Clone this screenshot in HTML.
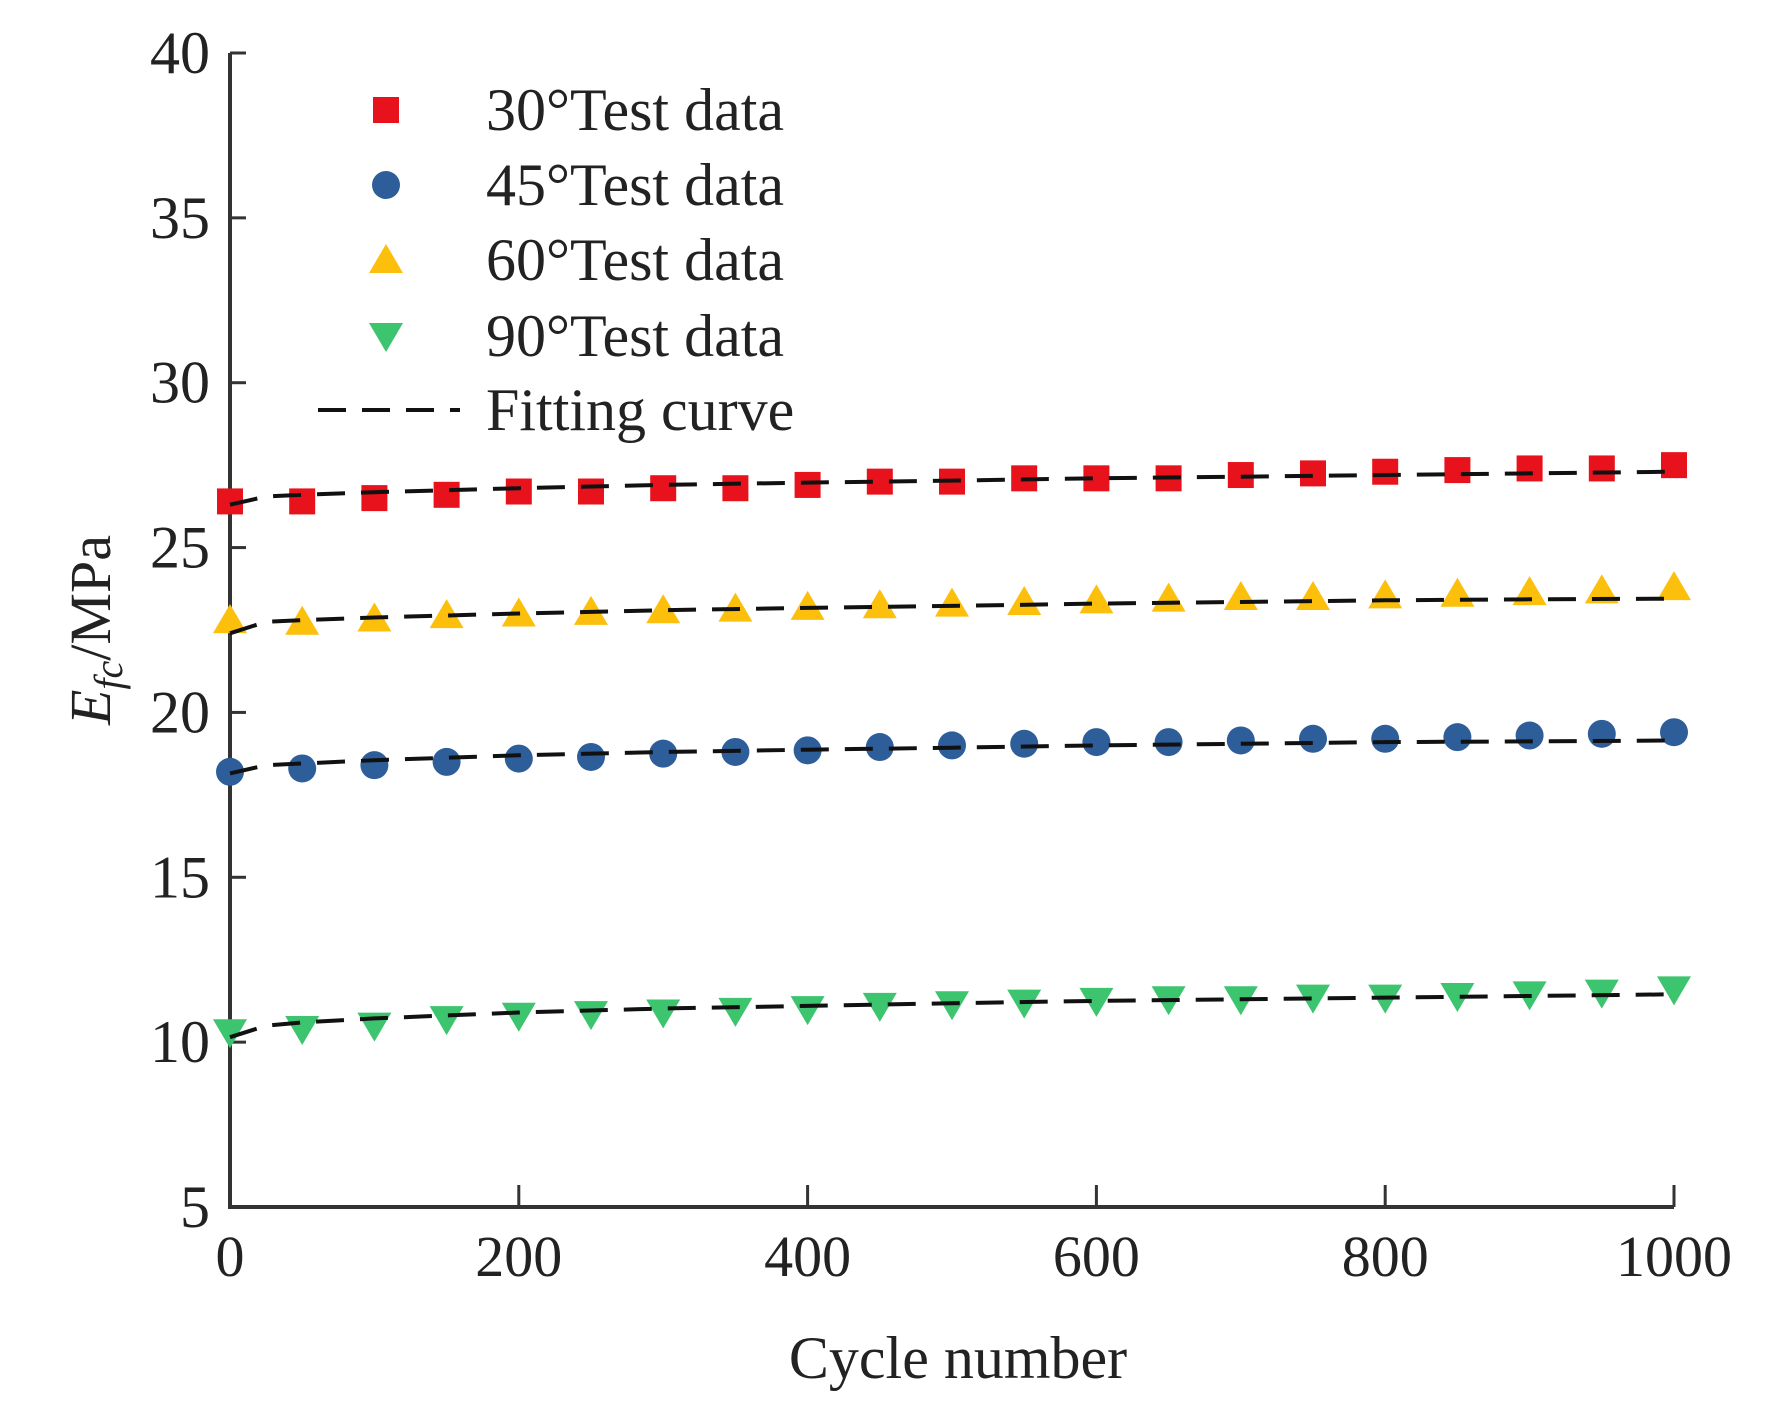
<!DOCTYPE html>
<html><head><meta charset="utf-8"><style>
body{margin:0;background:#fff}
text{font-family:"Liberation Serif",serif;fill:#222}
</style></head><body>
<svg id="chart" width="1770" height="1419">
<g id="axes"></g>
<g id="plot"></g>
<g id="legend"></g>
</svg>
<script>
const xs=[0,50,100,150,200,250,300,350,400,450,500,550,600,650,700,750,800,850,900,950,1000];
const s30=[26.4,26.4,26.5,26.6,26.7,26.7,26.8,26.8,26.9,27.0,27.0,27.1,27.1,27.1,27.2,27.25,27.3,27.35,27.4,27.4,27.5];
const s45=[18.2,18.3,18.4,18.5,18.6,18.65,18.75,18.8,18.85,18.95,19.0,19.05,19.1,19.1,19.15,19.2,19.2,19.25,19.3,19.35,19.4];
const s60=[22.8,22.75,22.85,22.95,23.0,23.05,23.1,23.15,23.2,23.25,23.3,23.35,23.4,23.45,23.5,23.5,23.55,23.6,23.65,23.7,23.8];
const s90=[10.3,10.4,10.5,10.7,10.8,10.85,10.9,10.95,11.0,11.1,11.15,11.2,11.25,11.3,11.3,11.35,11.35,11.4,11.45,11.5,11.6];
const fitX=[0,25,50,100,200,300,400,500,600,700,800,900,1000];
const fit30=[26.3,26.55,26.6,26.68,26.8,26.9,26.97,27.03,27.1,27.15,27.2,27.25,27.3];
const fit45=[18.15,18.4,18.45,18.55,18.7,18.8,18.87,18.93,19.0,19.05,19.1,19.12,19.15];
const fit60=[22.4,22.75,22.8,22.88,23.0,23.1,23.17,23.23,23.3,23.35,23.4,23.43,23.45];
const fit90=[10.15,10.5,10.6,10.72,10.9,11.02,11.1,11.18,11.25,11.3,11.35,11.4,11.45];
const xTicks=[0,200,400,600,800,1000];
const yTicks=[5,10,15,20,25,30,35,40];
const legendLabels=["30°Test data","45°Test data","60°Test data","90°Test data","Fitting curve"];

const NS="http://www.w3.org/2000/svg";
const X0=230,X1=1674,Y0=1207,Y1=53;
const xS=v=>X0+(v-0)/1000*(X1-X0);
const yS=v=>Y0-(v-5)/35*(Y0-Y1);
function mk(parent,tag,attrs,txt){const e=document.createElementNS(NS,tag);for(const k in attrs)e.setAttribute(k,attrs[k]);if(txt!==undefined)e.textContent=txt;parent.appendChild(e);return e;}
const axes=document.getElementById('axes'),plot=document.getElementById('plot'),leg=document.getElementById('legend');

let a=mk(axes,'path',{d:`M${X0},${Y1}V${Y0}H${X1}`,stroke:'#333','stroke-width':4,fill:'none'});


yTicks.forEach(t=>{
 let l=mk(axes,'line',{x1:X0,x2:X0+16,y1:yS(t),y2:yS(t),stroke:'#333','stroke-width':3});
 
 
 let tx=mk(axes,'text',{x:X0-20,y:yS(t)+20,'text-anchor':'end','font-size':60},t);
 
 
});
xTicks.forEach(t=>{
 let l=mk(axes,'line',{x1:xS(t),x2:xS(t),y1:Y0,y2:Y0-22,stroke:'#333','stroke-width':3});
 
 
 let tx=mk(axes,'text',{x:xS(t),y:1276,'text-anchor':'middle','font-size':58},t);
 
 
});
let xt=mk(axes,'text',{x:958,y:1378,'text-anchor':'middle','font-size':60},'Cycle number');


let yt=mk(axes,'text',{transform:'translate(110,630) rotate(-90)','text-anchor':'middle','font-size':58});


mk(yt,'tspan',{'font-style':'italic'},'E');
mk(yt,'tspan',{'font-style':'italic','font-size':40,dy:12},'fc');
mk(yt,'tspan',{dy:-12},'/MPa');

function marker(g,type,cx,cy,col){
 let e;
 if(type==='sq') e=mk(g,'rect',{x:cx-13,y:cy-13,width:26,height:26,fill:col});
 else if(type==='ci') e=mk(g,'circle',{cx:cx,cy:cy,r:14,fill:col});
 else if(type==='up') e=mk(g,'polygon',{points:`${cx-17},${cy+13} ${cx+17},${cy+13} ${cx},${cy-16}`,fill:col});
 else e=mk(g,'polygon',{points:`${cx-17},${cy-13} ${cx+17},${cy-13} ${cx},${cy+16}`,fill:col});
 return e;
}
const series=[[s30,'sq','#e8121c','series-30'],[s45,'ci','#2e5e9a','series-45'],[s60,'up','#fbbf0c','series-60'],[s90,'dn','#3cc46e','series-90']];
series.forEach(([d,t,c,n])=>{
 const g=mk(plot,'g',{});
 
 
 d.forEach((v,i)=>{const m=marker(g,t,xS(xs[i]),yS(v),c);
  
  });
});
[fit30,fit45,fit60,fit90].forEach((f,k)=>{
 const p=mk(plot,'path',{d:f.map((v,i)=>(i?'L':'M')+xS(fitX[i]).toFixed(1)+','+yS(v).toFixed(1)).join(''),stroke:'#111','stroke-width':4,fill:'none','stroke-dasharray':'28 16'});
 
 
});
const ly=[110,185,260,336,410];
legendLabels.forEach((lb,i)=>{
 let e;
 if(i<4) e=marker(leg,series[i][1],386,ly[i],series[i][2]);
 else e=mk(leg,'line',{x1:318,x2:460,y1:ly[i],y2:ly[i],stroke:'#111','stroke-width':4,'stroke-dasharray':'28 16'});
 
 
 let t=mk(leg,'text',{x:486,y:ly[i]+20,'font-size':60},lb);
 
 
});
</script>
</body></html>
